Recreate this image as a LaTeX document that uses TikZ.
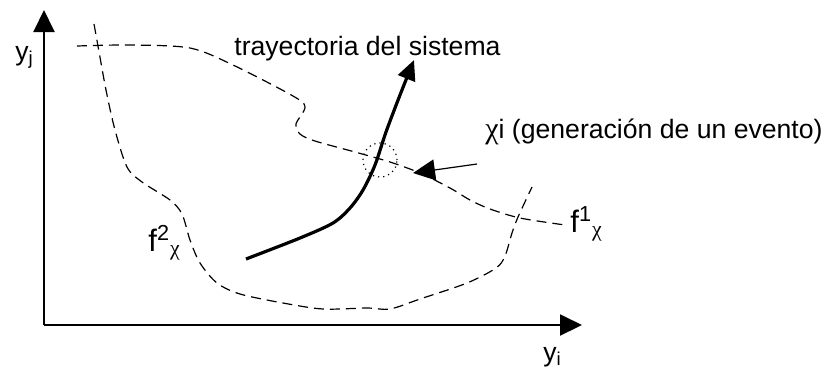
\documentclass[tikz,border=0pt]{standalone}
\usepackage{fontspec}
\setmainfont{Liberation Sans}
\newfontfamily\symbfont{Liberation Serif}
\usetikzlibrary{arrows.meta}

\tikzset{
    lbl/.style={inner sep=0pt, anchor=base west, font=\fontsize{13.3}{16}\selectfont},
    flbl/.style={inner sep=0pt, anchor=base west, font=\fontsize{15.5}{18}\selectfont},
    bound/.style={dashed, dash pattern=on 5pt off 3pt, line width=0.6pt},
}

\begin{document}
\begin{tikzpicture}[x=0.5pt, y=-0.5pt, >={Triangle[length=11pt, width=10.5pt]}]
            \useasboundingbox (0, 0) rectangle (833, 372);

            % Axes
            \coordinate (O) at (44, 325);
            \coordinate (ytop) at (44, 10);
            \coordinate (xend) at (582, 325);
            \draw[->, line width=1pt] (O) -- (ytop);
            \draw[->, line width=1pt] (O) -- (xend);
            \node[lbl] (yj) at (15, 60) {y\textsubscript{j}};
            \node[lbl] (yi) at (543, 361) {y\textsubscript{i}};

            % Boundary f1
            \draw[bound] plot[smooth, tension=0.5] coordinates {(77, 46) (130, 45) (190, 48) (233, 65)
            (293, 96) (305, 107) (296, 124) (300, 134) (315, 141) (355, 152) (390, 162) (420, 173)
            (450, 188) (470, 200) (490, 209) (520, 218) (565, 225)};
            \node[flbl] (f1) at (570, 232) {f\textsuperscript{1}\textsubscript{\symbfont χ}};

            % Boundary f2
            \draw[bound] plot[smooth, tension=0.5] coordinates {(94, 24) (98, 46) (106, 90) (115, 130)
            (127, 167) (142, 182) (170, 200) (182, 214) (190, 240) (200, 263) (217, 283) (240, 294)
            (283, 303) (323, 309) (367, 308) (390, 309) (420, 299) (467, 283) (496, 268) (505, 256)
            (512, 233) (518, 217) (532, 187)};
            \node[flbl] (f2) at (148, 251) {f\textsuperscript{2}\textsubscript{\symbfont χ}};

            % Trajectory of the system
            \draw[->, line width=1.6pt, >={Triangle[length=10pt, width=9pt]}] plot[smooth, tension=0.5]
            coordinates {(246, 259) (300, 238) (333, 223) (350, 208) (363, 190) (375, 165) (386, 132)
            (400, 95) (414, 60)};
            \node[lbl] (tray) at (234, 55) {trayectoria del sistema};

            % Event
            \node[circle, draw, dotted, line width=0.6pt, minimum size=17pt, inner sep=0pt] (ev) at (380, 160) {};
            \coordinate (evtail) at (477, 164);
            \coordinate (evtip) at (413, 173);
            \draw[->, line width=0.6pt] (evtail) -- (evtip);
            \node[lbl] (evlbl) at (485, 138) {{\symbfont\fontsize{15}{18}\selectfont χ}i (generación de un evento)};
        \end{tikzpicture}
\end{document}
